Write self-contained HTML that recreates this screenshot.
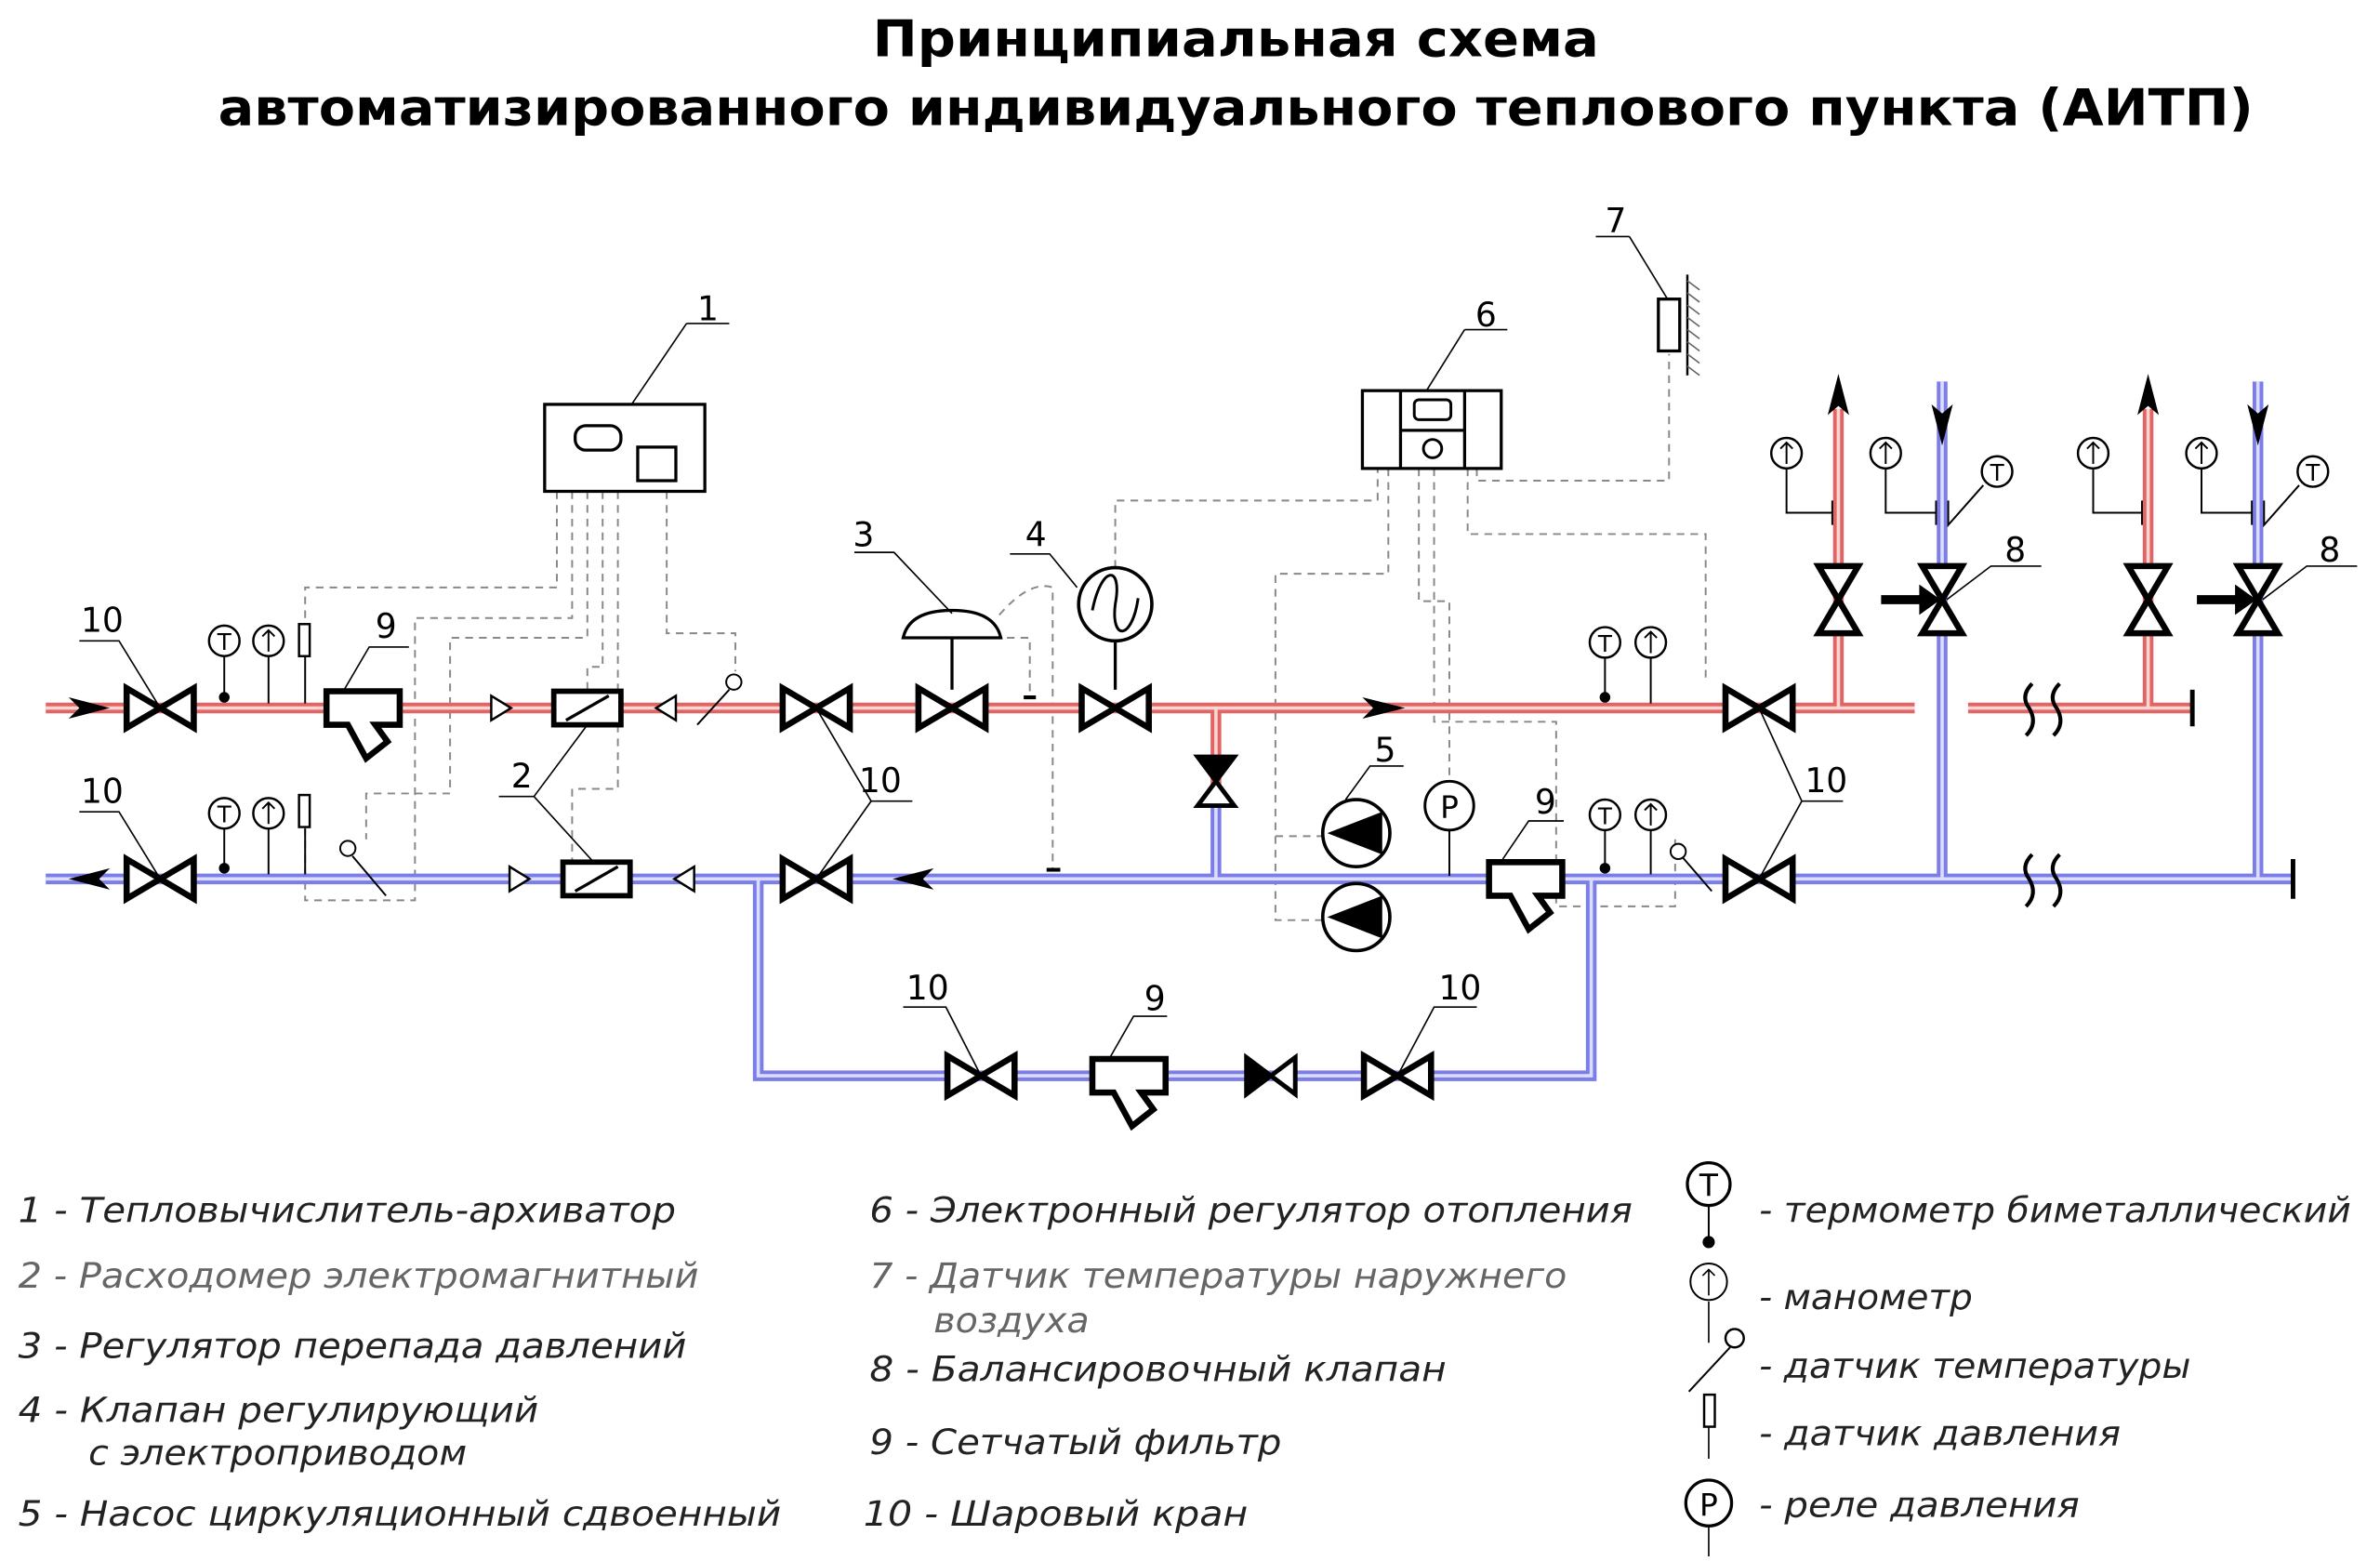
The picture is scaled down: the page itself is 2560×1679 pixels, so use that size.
<!DOCTYPE html>
<html><head><meta charset="utf-8"><style>
html,body{margin:0;padding:0;background:#fff}
svg{display:block}
text{font-family:"DejaVu Sans","Liberation Sans",sans-serif}
</style></head><body>
<svg width="2560" height="1679" viewBox="0 0 1560 1023" preserveAspectRatio="none" xmlns="http://www.w3.org/2000/svg">
<defs>
<g id="bv"><path d="M-22,-13 L0,0 L-22,13 Z M22,-13 L0,0 L22,13 Z" fill="#fff" stroke="#000" stroke-width="4" stroke-linejoin="miter"/></g>
<g id="bvf"><path d="M-16,-12 L0,0 L-16,12 Z" fill="#000" stroke="#000" stroke-width="3"/><path d="M16,-12 L0,0 L16,12 Z" fill="#fff" stroke="#000" stroke-width="3"/></g>
<g id="vv"><path d="M-13,-22 L0,0 L13,-22 Z M-13,22 L0,0 L13,22 Z" fill="#fff" stroke="#000" stroke-width="4"/></g>
<g id="filt"><path d="M-24,-11 H24 V11 H8 L16,22 L2,33 L-10,11 H-24 Z" fill="#fff" stroke="#000" stroke-width="4" stroke-linejoin="miter"/></g>
<g id="fm"><rect x="-22" y="-11" width="44" height="22" fill="#fff" stroke="#000" stroke-width="3.5"/><line x1="-14" y1="8" x2="14" y2="-8" stroke="#000" stroke-width="2"/></g>
<g id="tr"><path d="M-6,-8 L7,0 L-6,8 Z" fill="#fff" stroke="#000" stroke-width="1.5"/></g>
<g id="tl"><path d="M6,-8 L-7,0 L6,8 Z" fill="#fff" stroke="#000" stroke-width="1.5"/></g>
<g id="tm"><circle cx="0" cy="0" r="10" fill="#fff" stroke="#000" stroke-width="1.5"/><text x="0" y="6" font-size="15" text-anchor="middle">T</text></g>
<g id="mn"><circle cx="0" cy="0" r="10" fill="#fff" stroke="#000" stroke-width="1.5"/><path d="M0,7 V-7 M-4,-3 L0,-7 L4,-3" fill="none" stroke="#000" stroke-width="1.2"/></g>
</defs>

<text x="810" y="37" font-size="33" font-weight="bold" text-anchor="middle" textLength="476" lengthAdjust="spacingAndGlyphs">Принципиальная схема</text>
<text x="810" y="82" font-size="33" font-weight="bold" text-anchor="middle" textLength="1334" lengthAdjust="spacingAndGlyphs">автоматизированного индивидуального теплового пункта (АИТП)</text>

<!-- dashed control lines -->
<g fill="none" stroke="#888" stroke-width="1.2" stroke-dasharray="5,4">
<path d="M365,322 V385 H200 V410"/>
<path d="M375,322 V405 H272 V590 H200 V520"/>
<path d="M385,322 V418 H295 V520 H240 V550"/>
<path d="M395,322 V437 H385 V453"/>
<path d="M405,322 V517 H375 V565"/>
<path d="M437,322 V415 H482 V440"/>
<path d="M655,403 Q675,380 690,385 V570"/>
<path d="M651,418 H675 V455"/>
<path d="M731,372 V328 H903 V307"/>
<path d="M910,307 V376 H836 V603 H868"/>
<path d="M836,548 H868"/>
<path d="M930,307 V394 H950 V512"/>
<path d="M940,307 V473 H1020 V594 H1098 V550"/>
<path d="M962,307 V350 H1118 V445"/>
<path d="M968,307 V315 H1094 V232"/>
</g>

<!-- box 1 -->
<rect x="357" y="265" width="105" height="57" fill="#fff" stroke="#000" stroke-width="2"/>
<rect x="377" y="279" width="30" height="16" rx="7" fill="#fff" stroke="#000" stroke-width="2"/>
<rect x="418" y="293" width="25" height="22" fill="#fff" stroke="#000" stroke-width="2"/>
<line x1="414" y1="265" x2="450" y2="212" stroke="#000" stroke-width="1"/><line x1="450" y1="212" x2="478" y2="212" stroke="#000" stroke-width="1"/>
<text x="457" y="210" font-size="22">1</text>

<!-- box 6 -->
<rect x="893" y="256" width="91" height="51" fill="#fff" stroke="#000" stroke-width="2"/>
<line x1="918" y1="256" x2="918" y2="307" stroke="#000" stroke-width="2"/><line x1="960" y1="256" x2="960" y2="307" stroke="#000" stroke-width="2"/>
<line x1="918" y1="282" x2="960" y2="282" stroke="#000" stroke-width="2"/>
<rect x="927" y="262" width="24" height="13" rx="3" fill="#fff" stroke="#000" stroke-width="1.8"/>
<circle cx="939" cy="294" r="6" fill="#fff" stroke="#000" stroke-width="1.8"/>
<line x1="935" y1="256" x2="960" y2="216" stroke="#000" stroke-width="1"/><line x1="960" y1="216" x2="988" y2="216" stroke="#000" stroke-width="1"/>
<text x="967" y="214" font-size="22">6</text>

<!-- sensor 7 -->
<rect x="1087" y="196" width="14" height="34" fill="#fff" stroke="#000" stroke-width="2"/>
<line x1="1106" y1="180" x2="1106" y2="246" stroke="#000" stroke-width="1.5"/>
<g stroke="#666" stroke-width="1"><path d="M1106,184 l8,6 M1106,192 l8,6 M1106,200 l8,6 M1106,208 l8,6 M1106,216 l8,6 M1106,224 l8,6 M1106,232 l8,6 M1106,240 l8,6"/></g>
<line x1="1093" y1="196" x2="1068" y2="155" stroke="#000" stroke-width="1"/><line x1="1046" y1="155" x2="1068" y2="155" stroke="#000" stroke-width="1"/>
<text x="1052" y="152" font-size="22">7</text>

<!-- pipes -->
<g fill="none" stroke-linejoin="miter">
<g stroke="#e06666" stroke-width="7">
<path d="M30,464 H1255 M1290,464 H1437 M1205,464 V268 M1408,464 V268 M797,464 V520"/>
</g>
<g stroke="#fbd4d4" stroke-width="2.2">
<path d="M30,464 H1255 M1290,464 H1437 M1205,464 V268 M1408,464 V268 M797,464 V520"/>
</g>
<g stroke="#7b7de8" stroke-width="7">
<path d="M30,576 H1503 M1273,576 V250 M1480,576 V250 M497,576 V705 H1043 V576 M797,576 V520"/>
</g>
<g stroke="#dcdcfb" stroke-width="2.2">
<path d="M30,576 H1503 M1273,576 V250 M1480,576 V250 M497,576 V705 H1043 V576 M797,576 V520"/>
</g>
</g>
<line x1="1437" y1="452" x2="1437" y2="476" stroke="#000" stroke-width="3"/>
<line x1="1503" y1="563" x2="1503" y2="589" stroke="#000" stroke-width="3"/>
<!-- breaks -->
<g fill="none" stroke="#000" stroke-width="2.5">
<path d="M1332,448 q-8,8 -2,16 q6,10 -2,18 M1350,448 q-8,8 -2,16 q6,10 -2,18"/>
<path d="M1332,560 q-8,8 -2,16 q6,10 -2,18 M1350,560 q-8,8 -2,16 q6,10 -2,18"/>
</g>

<!-- flow arrows -->
<path d="M45,457 L72,464 L45,471 L52,464 Z" fill="#000"/>
<path d="M72,569 L45,576 L72,583 L65,576 Z" fill="#000"/>
<path d="M893,457 L921,464 L893,471 L900,464 Z" fill="#000"/>
<path d="M612,569 L585,576 L612,583 L605,576 Z" fill="#000"/>
<path d="M1198,272 L1205,245 L1212,272 L1205,266 Z" fill="#000"/>
<path d="M1401,272 L1408,245 L1415,272 L1408,266 Z" fill="#000"/>
<path d="M1266,265 L1273,292 L1280,265 L1273,271 Z" fill="#000"/>
<path d="M1473,265 L1480,292 L1487,265 L1480,271 Z" fill="#000"/>

<!-- instruments left -->
<g stroke="#000" stroke-width="1.2">
<line x1="147" y1="430" x2="147" y2="458"/><line x1="176" y1="430" x2="176" y2="461"/><line x1="200" y1="430" x2="200" y2="461"/>
<line x1="147" y1="543" x2="147" y2="570"/><line x1="176" y1="543" x2="176" y2="573"/><line x1="200" y1="543" x2="200" y2="573"/>
<line x1="1052" y1="431" x2="1052" y2="458"/><line x1="1082" y1="431" x2="1082" y2="461"/>
<line x1="1052" y1="544" x2="1052" y2="570"/><line x1="1082" y1="544" x2="1082" y2="573"/>
</g>
<circle cx="147" cy="457" r="3.5"/><circle cx="147" cy="569" r="3.5"/><circle cx="1052" cy="457" r="3.5"/><circle cx="1052" cy="569" r="3.5"/>
<use href="#tm" x="147" y="420"/><use href="#mn" x="176" y="420"/><rect x="196" y="409" width="7" height="21" fill="#fff" stroke="#000" stroke-width="1.5"/>
<use href="#tm" x="147" y="533"/><use href="#mn" x="176" y="533"/><rect x="196" y="521" width="7" height="21" fill="#fff" stroke="#000" stroke-width="1.5"/>
<use href="#tm" x="1052" y="421"/><use href="#mn" x="1082" y="421"/>
<use href="#tm" x="1052" y="534"/><use href="#mn" x="1082" y="534"/>
<!-- temperature sensors -->
<g fill="#fff" stroke="#000" stroke-width="1.2">
<circle cx="481" cy="447" r="5"/><line x1="478" y1="452" x2="457" y2="475"/>
<circle cx="228" cy="556" r="5"/><line x1="231" y1="561" x2="253" y2="587"/>
<circle cx="1100" cy="558" r="5"/><line x1="1103" y1="562" x2="1122" y2="584"/>
</g>

<!-- valves -->
<use href="#bv" x="105" y="464"/><use href="#bv" x="535" y="464"/><use href="#bv" x="624" y="464"/><use href="#bv" x="731" y="464"/><use href="#bv" x="1153" y="464"/>
<use href="#bv" x="105" y="576"/><use href="#bv" x="535" y="576"/><use href="#bv" x="1153" y="576"/>
<use href="#bv" x="643" y="705"/><use href="#bv" x="916" y="705"/>
<use href="#bvf" x="833" y="705"/>
<path d="M785,496 L797,512 L809,496 Z" fill="#000" stroke="#000" stroke-width="3"/><path d="M785,528 L797,512 L809,528 Z" fill="#fff" stroke="#000" stroke-width="3"/>

<!-- filters -->
<use href="#filt" x="238" y="464"/><use href="#filt" x="1000" y="576"/><use href="#filt" x="740" y="705"/>
<!-- flowmeters -->
<use href="#tr" x="328" y="464"/><use href="#fm" x="385" y="464"/><use href="#tl" x="437" y="464"/>
<use href="#tr" x="340" y="576"/><use href="#fm" x="391" y="576"/><use href="#tl" x="449" y="576"/>

<!-- regulator 3 -->
<line x1="624" y1="415" x2="624" y2="452" stroke="#000" stroke-width="2"/>
<path d="M592,418 Q596,400 624,400 Q652,400 656,418 Z" fill="#fff" stroke="#000" stroke-width="2"/>
<line x1="671" y1="457" x2="679" y2="457" stroke="#000" stroke-width="2.5"/>
<line x1="686" y1="570" x2="695" y2="570" stroke="#000" stroke-width="2.5"/>
<!-- valve 4 -->
<line x1="731" y1="420" x2="731" y2="452" stroke="#000" stroke-width="2"/>
<circle cx="731" cy="396" r="24" fill="#fff" stroke="#000" stroke-width="2.2"/>
<path d="M716,400 C722,370 736,370 731,396 C728,420 742,420 746,392" fill="none" stroke="#000" stroke-width="1.8"/>

<!-- pumps -->
<circle cx="889" cy="546" r="22" fill="#fff" stroke="#000" stroke-width="2.2"/><path d="M906,532 L870,546 L906,560 Z" fill="#000"/>
<circle cx="889" cy="601" r="22" fill="#fff" stroke="#000" stroke-width="2.2"/><path d="M906,587 L870,601 L906,615 Z" fill="#000"/>
<!-- P relay -->
<line x1="950" y1="544" x2="950" y2="574" stroke="#000" stroke-width="1.2"/>
<circle cx="950" cy="528" r="16" fill="#fff" stroke="#000" stroke-width="1.8"/><text x="950" y="536" font-size="20" text-anchor="middle">P</text>

<!-- riser instruments -->
<g stroke="#000" stroke-width="1.2" fill="none">
<path d="M1171,307 V336 H1201 M1201,328 V344"/>
<path d="M1236,307 V336 H1269 M1269,328 V344 M1277,328 V344 L1300,318"/>
<path d="M1372,307 V336 H1404 M1404,328 V344"/>
<path d="M1443,307 V336 H1476 M1476,328 V344 M1484,328 V344 L1507,318"/>
</g>
<use href="#mn" x="1171" y="297"/><use href="#mn" x="1236" y="297"/><use href="#tm" x="1309" y="309"/>
<use href="#mn" x="1372" y="297"/><use href="#mn" x="1443" y="297"/><use href="#tm" x="1516" y="309"/>
<use href="#vv" x="1205" y="393"/><use href="#vv" x="1273" y="393"/><use href="#vv" x="1408" y="393"/><use href="#vv" x="1480" y="393"/>
<path d="M1233,390 H1258 V383 L1272,393 L1258,403 V396 H1233 Z" fill="#000"/>
<path d="M1440,390 H1465 V383 L1479,393 L1465,403 V396 H1440 Z" fill="#000"/>

<!-- labels -->
<g stroke="#000" stroke-width="1" fill="none">
<path d="M105,464 L78,420 H52"/><path d="M105,576 L78,532 H52"/>
<path d="M225,453 L242,424 H268"/>
<path d="M385,475 L350,522 H327 M350,522 L390,566"/>
<path d="M535,464 L571,525 L535,576 M571,525 H598"/>
<path d="M1153,464 L1181,525 L1153,576 M1181,525 H1208"/>
<path d="M624,402 L586,362 H560"/>
<path d="M706,385 L688,363 H662"/>
<path d="M882,524 L898,502 H920"/>
<path d="M985,563 L1002,538 H1025"/>
<path d="M643,705 L620,660 H592"/><path d="M916,705 L940,660 H968"/>
<path d="M727,694 L743,666 H765"/>
<path d="M1276,393 L1305,371 H1338"/><path d="M1483,393 L1512,371 H1545"/>
</g>
<g font-size="22">
<text x="53" y="414">10</text><text x="53" y="526">10</text>
<text x="246" y="418">9</text><text x="335" y="516">2</text>
<text x="563" y="519">10</text><text x="1183" y="519">10</text>
<text x="559" y="358">3</text><text x="672" y="358">4</text>
<text x="901" y="499">5</text><text x="1006" y="533">9</text>
<text x="594" y="655">10</text><text x="943" y="655">10</text><text x="750" y="662">9</text>
<text x="1314" y="368">8</text><text x="1520" y="368">8</text>
</g>

<!-- legend -->
<g font-size="23" font-style="italic" fill="#222">
<text x="12" y="801" textLength="431" lengthAdjust="spacingAndGlyphs">1 - Тепловычислитель-архиватор</text>
<text x="12" y="844" fill="#666" textLength="446" lengthAdjust="spacingAndGlyphs">2 - Расходомер электромагнитный</text>
<text x="12" y="890" textLength="438" lengthAdjust="spacingAndGlyphs">3 - Регулятор перепада давлений</text>
<text x="12" y="932" textLength="341" lengthAdjust="spacingAndGlyphs">4 - Клапан регулирующий</text>
<text x="58" y="960" textLength="248" lengthAdjust="spacingAndGlyphs">с электроприводом</text>
<text x="12" y="1000" textLength="500" lengthAdjust="spacingAndGlyphs">5 - Насос циркуляционный сдвоенный</text>
<text x="570" y="801" textLength="500" lengthAdjust="spacingAndGlyphs">6 - Электронный регулятор отопления</text>
<text x="570" y="844" fill="#666" textLength="457" lengthAdjust="spacingAndGlyphs">7 - Датчик температуры наружнего</text>
<text x="612" y="873" fill="#666" textLength="102" lengthAdjust="spacingAndGlyphs">воздуха</text>
<text x="570" y="905" textLength="378" lengthAdjust="spacingAndGlyphs">8 - Балансировочный клапан</text>
<text x="570" y="953" textLength="270" lengthAdjust="spacingAndGlyphs">9 - Сетчатый фильтр</text>
<text x="566" y="1000" textLength="252" lengthAdjust="spacingAndGlyphs">10 - Шаровый кран</text>
<text x="1153" y="801" textLength="388" lengthAdjust="spacingAndGlyphs">- термометр биметаллический</text>
<text x="1153" y="858" textLength="140" lengthAdjust="spacingAndGlyphs">- манометр</text>
<text x="1153" y="903" textLength="283" lengthAdjust="spacingAndGlyphs">- датчик температуры</text>
<text x="1153" y="947" textLength="237" lengthAdjust="spacingAndGlyphs">- датчик давления</text>
<text x="1153" y="994" textLength="210" lengthAdjust="spacingAndGlyphs">- реле давления</text>
</g>
<!-- legend symbols -->
<g stroke="#000" fill="#fff">
<line x1="1120" y1="790" x2="1120" y2="812" stroke-width="1.2"/>
<circle cx="1120" cy="776" r="14" stroke-width="2"/><text x="1120" y="784" font-size="20" text-anchor="middle" fill="#000" stroke="none">T</text>
<circle cx="1120" cy="814" r="3.5" fill="#000"/>
<line x1="1120" y1="853" x2="1120" y2="880" stroke-width="1"/>
<circle cx="1120" cy="840" r="12" stroke-width="1.2"/><path d="M1120,849 V832 M1116,836 L1120,832 L1124,836" fill="none" stroke-width="1"/>
<circle cx="1137" cy="877" r="6" stroke-width="1.5"/><line x1="1134" y1="883" x2="1107" y2="912" stroke-width="1.2"/>
<rect x="1117" y="914" width="7" height="21" stroke-width="1.5"/><line x1="1120" y1="935" x2="1120" y2="956" stroke-width="1"/>
<circle cx="1120" cy="985" r="15" stroke-width="2"/><text x="1120" y="993" font-size="20" text-anchor="middle" fill="#000" stroke="none">P</text>
<line x1="1120" y1="1000" x2="1120" y2="1020" stroke-width="1"/>
</g>
</svg>
</body></html>
